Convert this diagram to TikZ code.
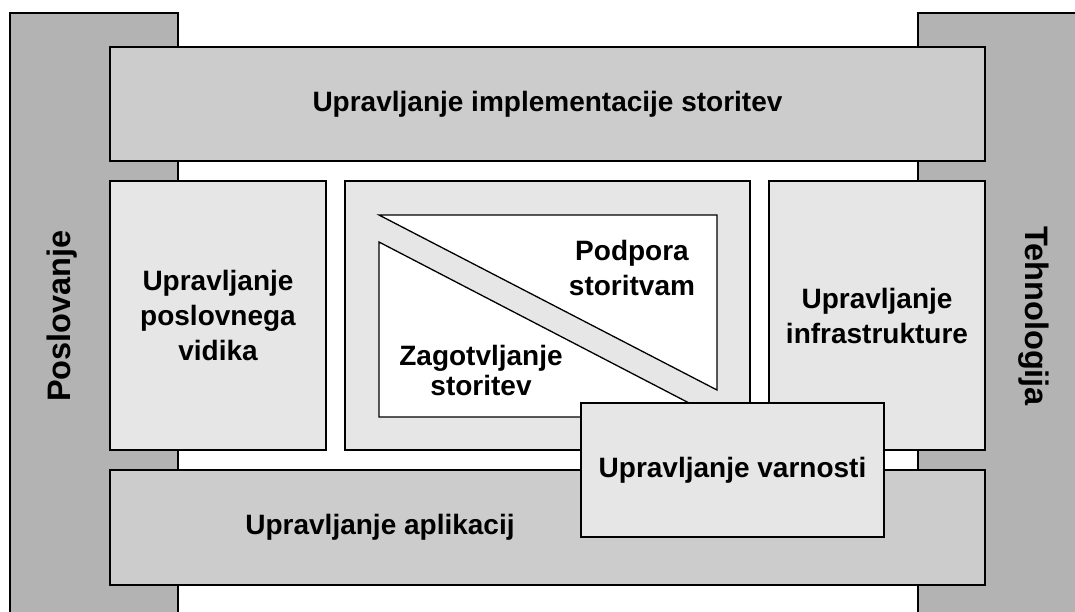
\documentclass[tikz,border=0pt]{standalone}
\usepackage{fontspec}
\setmainfont{Liberation Sans}
\definecolor{barfill}{HTML}{B3B3B3}
\definecolor{bandfill}{HTML}{CCCCCC}
\definecolor{cellfill}{HTML}{E6E6E6}
\begin{document}
\begin{tikzpicture}[x=1pt,y=-1pt,
  box/.style={draw=black, line width=2pt, inner sep=0pt, outer sep=0pt},
  lbl/.style={font=\bfseries\fontsize{28}{35}\selectfont, align=center, inner sep=0pt},
  side/.style={font=\bfseries\fontsize{32.5}{38}\selectfont, inner sep=0pt},
  wedge/.style={draw=black, line width=1.3pt, fill=white, line join=miter}]
\useasboundingbox (0,0) rectangle (1075,611);
\clip (0,0) rectangle (1075,611);

% side pillars
\node[box, fill=barfill, minimum width=168, minimum height=617] (business) at (94,321.5) {};
\node[box, fill=barfill, minimum width=172, minimum height=617] (technology) at (1004,321.5) {};

% horizontal bands
\node[box, fill=bandfill, minimum width=875, minimum height=114, lbl] (implementation) at (547.5,104)
  {Upravljanje implementacije storitev};
\node[box, fill=bandfill, minimum width=875, minimum height=115] (applications) at (547.5,527.5) {};

% middle row
\node[box, fill=cellfill, minimum width=216, minimum height=269, lbl] (businessview) at (218,315.5)
  {Upravljanje\\poslovnega\\vidika};
\node[box, fill=cellfill, minimum width=405, minimum height=269] (core) at (547.5,315.5) {};
\node[box, fill=cellfill, minimum width=216, minimum height=269, lbl] (infrastructure) at (877,315.5)
  {Upravljanje\\infrastrukture};

% split inner panel
\draw[wedge] (379,215) -- (717,215) -- (717,390) -- cycle;
\draw[wedge] (379,242) -- (716,417) -- (379,417) -- cycle;
\node[lbl] (support) at (632,268) {Podpora\\storitvam};
\node[lbl, font=\bfseries\fontsize{28}{30}\selectfont] (delivery) at (481,370) {Zagotvljanje\\storitev};

% security overlay
\node[box, fill=cellfill, minimum width=303, minimum height=134, lbl] (security) at (732.5,470)
  {Upravljanje varnosti};

% remaining labels
\node[lbl] (applabel) at (380,527) {Upravljanje aplikacij};
\node[side, rotate=90, anchor=base] (businesslabel) at (70,316) {Poslovanje};
\node[side, rotate=-90, anchor=base] (techlabel) at (1025,316) {Tehnologija};
\end{tikzpicture}
\end{document}
